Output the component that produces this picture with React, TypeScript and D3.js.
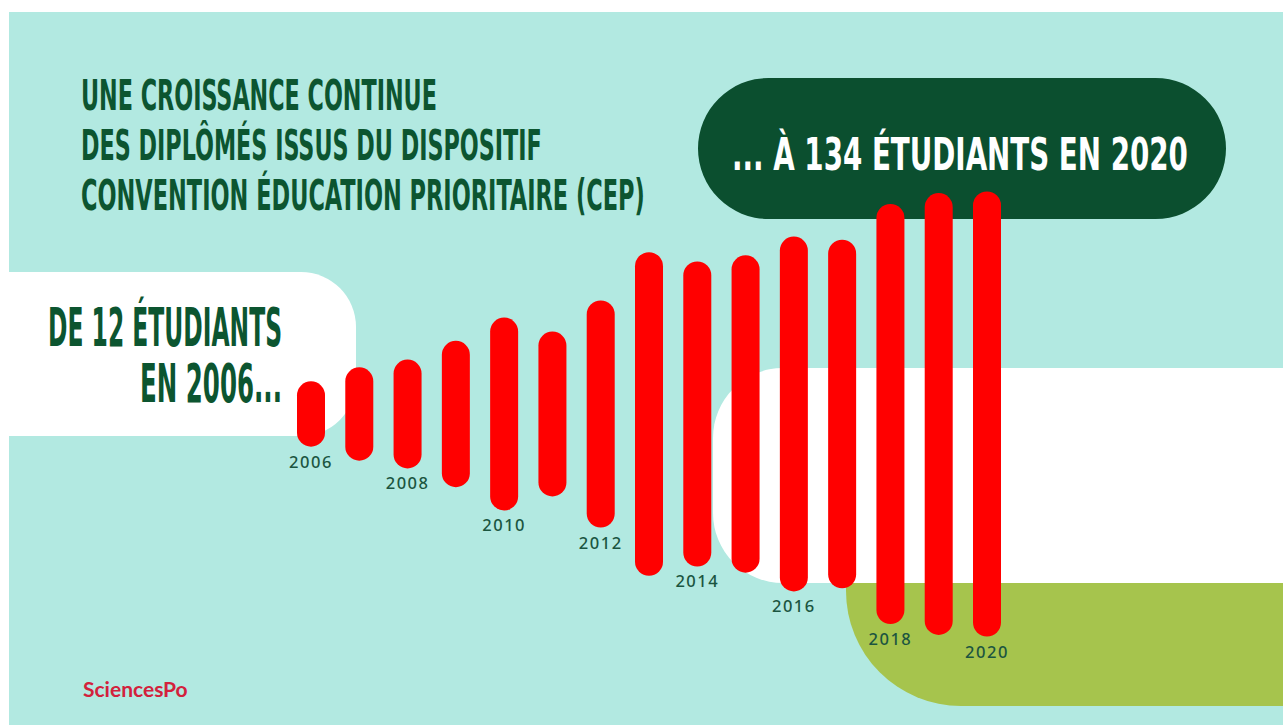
import React from "react";
import * as d3 from "d3";

// ---- data ----
const years = [2006, 2007, 2008, 2009, 2010, 2011, 2012, 2013, 2014, 2015, 2016, 2017, 2018, 2019, 2020];
const students = [12, 21, 26, 38, 53, 44, 64, 95, 89, 93, 105, 103, 126, 133, 134];
const labelledYears = [2006, 2008, 2010, 2012, 2014, 2016, 2018, 2020];
const titleLines = [
  "UNE CROISSANCE CONTINUE",
  "DES DIPLÔMÉS ISSUS DU DISPOSITIF",
  "CONVENTION ÉDUCATION PRIORITAIRE (CEP)",
];
const startLines = ["DE 12 ÉTUDIANTS", "EN 2006..."];
const endLabel = "... À 134 ÉTUDIANTS EN 2020";
const brand = "SciencesPo";

// ---- styles ----
const W = 1283;
const H = 725;
const TEAL = "#b2e9e1";
const DARK = "#0b4f2f";
const TITLE = "#0c5530";
const RED = "#ff0000";
const OLIVE = "#a6c44d";
const LABEL = "#1b5540";
const COND = "'Liberation Sans Narrow', 'DejaVu Sans Condensed', 'Liberation Sans', sans-serif";

let ctx: CanvasRenderingContext2D | null = null;
function measure(text: string, size: number) {
  if (!ctx) ctx = document.createElement("canvas").getContext("2d");
  if (!ctx) return text.length * size * 0.5;
  ctx.font = `bold ${size}px ${COND}`;
  return ctx.measureText(text).width || text.length * size * 0.5;
}

function CondText(props: { text: string; x: number; y: number; width: number; size: number; fill: string; anchor?: "start" | "end" }) {
  const { text, x, y, width, size, fill, anchor } = props;
  const natural = measure(text, size);
  const sx = width / natural;
  const x0 = anchor === "end" ? x - width : x;
  return (
    <text
      transform={`translate(${x0},${y}) scale(${sx},1)`}
      fill={fill}
      fontFamily={COND}
      fontWeight="bold"
      fontSize={size}
    >
      {text}
    </text>
  );
}

function rr(x: number, y: number, w: number, h: number, tl: number, tr: number, br: number, bl: number) {
  const p = d3.path();
  p.moveTo(x + tl, y);
  p.lineTo(x + w - tr, y);
  if (tr) p.arcTo(x + w, y, x + w, y + tr, tr);
  p.lineTo(x + w, y + h - br);
  if (br) p.arcTo(x + w, y + h, x + w - br, y + h, br);
  p.lineTo(x + bl, y + h);
  if (bl) p.arcTo(x, y + h, x, y + h - bl, bl);
  p.lineTo(x, y + tl);
  if (tl) p.arcTo(x, y, x + tl, y, tl);
  p.closePath();
  return p.toString();
}

export default function App() {
  const barW = 28;
  const midY = 414;
  const x = d3.scalePoint<string>().domain(years.map(String)).range([311, 987]);
  const len = d3.scaleLinear().domain([0, 134]).range([0, 417]);
  const bars = years.map((yr, i) => {
    const h = len(students[i]) + barW;
    return { yr, cx: x(String(yr)) as number, top: midY - h / 2, h };
  });

  return (
    <svg width={W} height={H} style={{ position: "absolute", left: 0, top: 0 }}>
      <defs>
        <clipPath id="panel">
          <rect x={9} y={12} width={W - 9} height={H - 12} />
        </clipPath>
      </defs>
      <rect x={0} y={0} width={W} height={H} fill="#ffffff" />
      <g clipPath="url(#panel)">
        <rect x={9} y={12} width={W - 9} height={H - 12} fill={TEAL} />
        {/* left white panel */}
        <path d={rr(-40, 272, 396, 164, 0, 55, 55, 0)} fill="#ffffff" />
        {/* right white panel */}
        <path d={rr(713, 368, 640, 215, 70, 0, 0, 70)} fill="#ffffff" />
        {/* olive panel */}
        <path d={rr(846, 583, 500, 123, 0, 0, 0, 115)} fill={OLIVE} />
        {/* dark green pill */}
        <path d={rr(698, 78, 528, 141, 70.5, 70.5, 70.5, 70.5)} fill={DARK} />
      </g>

      {/* title */}
      {titleLines.map((t, i) => (
        <CondText key={t} text={t} x={81} y={110 + i * 50} width={[356, 461, 564][i]} size={42} fill={TITLE} />
      ))}

      {/* start label */}
      {startLines.map((t, i) => (
        <CondText key={t} text={t} x={282} y={346 + i * 56} width={[234, 142][i]} size={53} fill={TITLE} anchor="end" />
      ))}

      {/* end label */}
      <CondText text={endLabel} x={732} y={170} width={456} size={45} fill="#ffffff" />

      {/* bars */}
      {bars.map((b) => (
        <rect key={b.yr} x={b.cx - barW / 2} y={b.top} width={barW} height={b.h} rx={barW / 2} fill={RED} />
      ))}

      {/* year labels */}
      {bars
        .filter((b) => labelledYears.includes(b.yr))
        .map((b) => (
          <text
            key={"l" + b.yr}
            x={b.cx}
            y={b.top + b.h + 21}
            textAnchor="middle"
            fill={LABEL}
            fontFamily="'Noto Sans', sans-serif"
            fontWeight={500}
            fontSize={16.5}
            letterSpacing={1.5}
          >
            {b.yr}
          </text>
        ))}

      {/* brand */}
      <text x={83} y={697} fill="#d3213c" fontFamily="Lato, sans-serif" fontWeight="bold" fontSize={21}>
        {brand}
      </text>
    </svg>
  );
}
